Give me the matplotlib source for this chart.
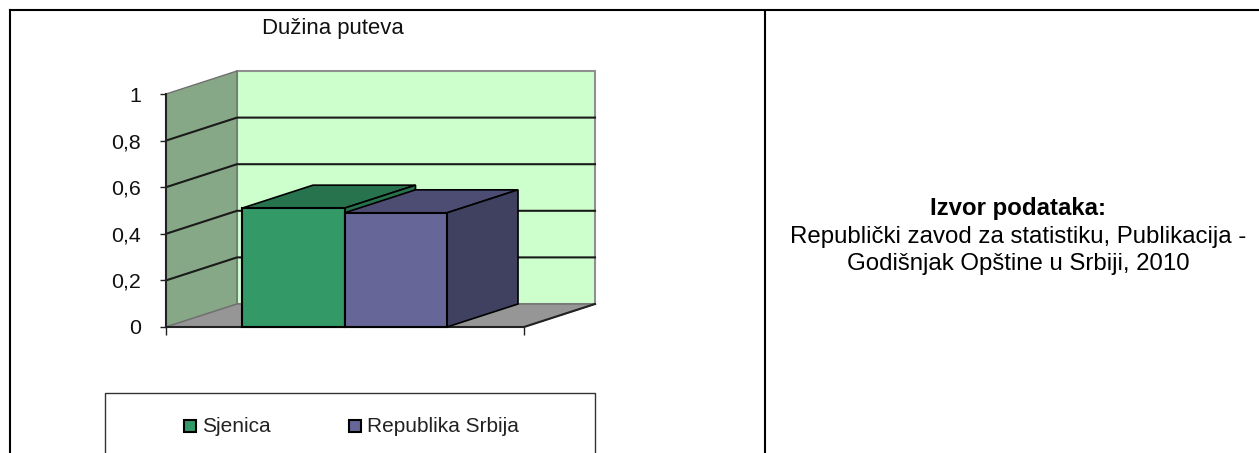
#!/usr/bin/env python
# encoding: utf-8

import matplotlib as mpl

mpl.use("Agg")

import matplotlib.pyplot as plt
from matplotlib.patches import Polygon, Rectangle

plt.rcParams['font.family'] = ['Liberation Sans', 'DejaVu Sans']

chart_title = "Dužina puteva"
series_names = ["Sjenica", "Republika Srbija"]
series_values = [0.51, 0.49]
y_ticks = [0, 0.2, 0.4, 0.6, 0.8, 1]
y_tick_labels = ["0", "0,2", "0,4", "0,6", "0,8", "1"]
source_title = "Izvor podataka:"
source_lines = ["Republički zavod za statistiku, Publikacija -",
                "Godišnjak Opštine u Srbiji, 2010"]

face_colors = ["#339966", "#666699"]
top_colors = ["#26734d", "#4d4d73"]
side_colors = ["#26734d", "#404060"]

W, H = 1259, 453
# front plane of the 3d box, pixels
left, right, bottom, top = 166, 524, 327, 94
# depth of the box in axis units
depth_x = 71.0 / (right - left)
depth_y = 23.0 / (bottom - top)
bar_start = 76.0 / (right - left)
bar_width = 102.5 / (right - left)

fig = plt.figure(figsize=(W / 100.0, H / 100.0), dpi=100)

# page layer in pixel coordinates, for the table and legend frame
page = fig.add_axes([0, 0, 1, 1])
page.set_xlim(0, W)
page.set_ylim(H, 0)
page.axis("off")
page.plot([10, 10], [H, 10], color="black", lw=1.5, solid_capstyle="projecting")
page.plot([10, W], [10, 10], color="black", lw=1.5, solid_capstyle="projecting")
page.plot([765, 765], [10, H], color="black", lw=1.5, solid_capstyle="butt")

page.text(332.5, 34, chart_title, fontsize=15.9, color="#111111",
          ha="center", va="baseline")
page.text(1018, 215, source_title, fontsize=17.3, fontweight="bold",
          ha="center", va="baseline", color="black")
page.text(1018, 243, source_lines[0], fontsize=17.3, ha="center", va="baseline", color="black")
page.text(1018, 270, source_lines[1], fontsize=17.3, ha="center", va="baseline", color="black")

page.plot([105.5, 105.5, 595.5, 595.5], [H, 392.5, 392.5, H], color="#333333", lw=1)
for x, name, color in zip([184, 349], series_names, face_colors):
    page.add_patch(Rectangle((x, 420), 12, 12, facecolor=color,
                             edgecolor="black", lw=1.5))
    page.text(x + 18, 432, name, fontsize=15, color="#222222",
              ha="left", va="baseline")

# chart layer, x runs 0..1 along the floor, y is the value
axis = fig.add_axes([left / W, 1 - bottom / H, (right - left) / W, (bottom - top) / H])
axis.patch.set_visible(False)
axis.set_xlim(0, 1)
axis.set_ylim(0, 1)
for side in axis.spines.values():
    side.set_visible(False)

# back wall, side wall, floor
axis.add_patch(Polygon([(depth_x, depth_y), (1 + depth_x, depth_y),
                        (1 + depth_x, 1 + depth_y), (depth_x, 1 + depth_y)],
                       closed=True, facecolor="#ccffcc", edgecolor="#909090",
                       lw=1.5, clip_on=False, zorder=1))
axis.add_patch(Polygon([(0, 0), (depth_x, depth_y), (depth_x, 1 + depth_y), (0, 1)],
                       closed=True, facecolor="#86a886", edgecolor="#707070",
                       lw=1, clip_on=False, zorder=2))
axis.add_patch(Polygon([(0, 0), (1, 0), (1 + depth_x, depth_y), (depth_x, depth_y)],
                       closed=True, facecolor="#969696", edgecolor="#707070",
                       lw=1, clip_on=False, zorder=2))

# gridlines
for tick in y_ticks[1:-1]:
    axis.plot([0, depth_x, 1 + depth_x], [tick, tick + depth_y, tick + depth_y],
              color="#1a1a1a", lw=1.5, clip_on=False, zorder=3, solid_joinstyle="miter")
axis.plot([0, 1, 1 + depth_x], [0, 0, depth_y], color="#222222", lw=1.5,
          clip_on=False, zorder=3)
axis.plot([0, 0], [0, 1], color="#222222", lw=1.5, clip_on=False, zorder=3)

# bars, drawn left to right so the second one covers the first one's side
for i in range(len(series_values)):
    value = series_values[i]
    x0 = bar_start + i * bar_width
    x1 = x0 + bar_width
    z = 4 + i
    axis.bar(x0, value, width=bar_width, align="edge", color=face_colors[i],
             edgecolor="black", linewidth=1.5, clip_on=False, zorder=z + 0.2)
    axis.add_patch(Polygon([(x0, value), (x1, value), (x1 + depth_x, value + depth_y),
                            (x0 + depth_x, value + depth_y)],
                           closed=True, facecolor=top_colors[i], edgecolor="black",
                           lw=1.2, clip_on=False, zorder=z))
    axis.add_patch(Polygon([(x1, 0), (x1 + depth_x, depth_y),
                            (x1 + depth_x, value + depth_y), (x1, value)],
                           closed=True, facecolor=side_colors[i], edgecolor="black",
                           lw=1.2, clip_on=False, zorder=z))

axis.set_yticks(y_ticks)
axis.set_yticklabels(y_tick_labels, fontsize=15.4, color="#111111")
axis.set_xticks([0, 1])
axis.set_xticklabels(["", ""])
axis.tick_params(axis="y", length=4, width=1, pad=14, color="#222222")
axis.tick_params(axis="x", length=6, width=1, color="#222222")

fig.savefig("out.png", dpi=100)
